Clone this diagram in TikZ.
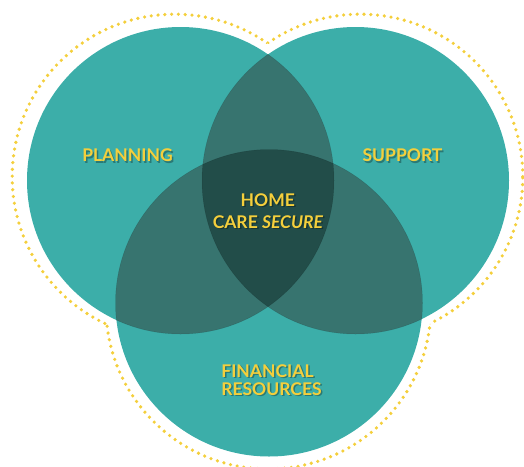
\documentclass[tikz,border=0pt]{standalone}
\usepackage{fontspec}
\setmainfont{Lato}
\usepackage{xcolor}
\definecolor{vennteal}{HTML}{3CAEA9}
\definecolor{venntwo}{HTML}{37746F}
\definecolor{vennthree}{HTML}{224D49}
\definecolor{vennyellow}{HTML}{F4CF3C}

\tikzset{
  dotline/.style={vennyellow, line width=3.6pt, line cap=round, dash pattern=on 0pt off 6.8pt},
  vennlabel/.style={font=\fontsize{17.5}{20}\selectfont\bfseries, text=vennyellow, inner sep=0pt},
  vennshadow/.style={vennlabel, text=black, text opacity=.3}
}
% text with a soft drop shadow
\newcommand\shadowtext[3]{%
  \node[vennshadow, xshift=1.5pt, yshift=-1.5pt] at (#2) {#3};
  \node[vennlabel] (#1) at (#2) {#3};
}

\begin{document}
\begin{tikzpicture}[x=1pt,y=-1pt]
\useasboundingbox (0,0) rectangle (524,466);
\def\rad{153.5pt}
\def\outrad{162.5pt}
\coordinate (plan) at (180.5,180.5);
\coordinate (supp) at (355.5,180.5);
\coordinate (fin) at (269,303);
\coordinate (planout) at (174.7,176.7);
\coordinate (suppout) at (360.3,176.7);
\coordinate (finout) at (268.4,306.5);

% dotted outline of the union
\foreach \a/\b/\c in {planout/suppout/finout, suppout/finout/planout, finout/planout/suppout}{
  \begin{scope}[even odd rule]
    \clip (-30,-30) rectangle (560,500) (\b) circle[radius=\outrad];
    \clip (-30,-30) rectangle (560,500) (\c) circle[radius=\outrad];
    \draw[dotline] (\a) circle[radius=\outrad];
  \end{scope}
}

% circles
\foreach \c in {plan,supp,fin}
  \fill[vennteal] (\c) circle[radius=\rad];
% pairwise overlaps
\foreach \a/\b in {plan/supp, supp/fin, fin/plan}{
  \begin{scope}
    \clip (\a) circle[radius=\rad];
    \fill[venntwo] (\b) circle[radius=\rad];
  \end{scope}
}
% centre
\begin{scope}
  \clip (plan) circle[radius=\rad];
  \clip (supp) circle[radius=\rad];
  \fill[vennthree] (fin) circle[radius=\rad];
\end{scope}
% faint edges inside the overlaps
\foreach \a/\b/\c in {plan/supp/fin, supp/fin/plan, fin/plan/supp}{
  \begin{scope}
    \clip (\b) circle[radius=\rad] (\c) circle[radius=\rad];
    \draw[black, opacity=.12, line width=.5pt] (\a) circle[radius=\rad];
  \end{scope}
}

% labels
\shadowtext{planning}{127.5,155.5}{PLANNING}
\shadowtext{support}{402.5,155.5}{SUPPORT}
\shadowtext{home}{267.8,199.7}{HOME}
\shadowtext{secure}{268,221.7}{CARE \textit{SECURE}}
\shadowtext{financial}{267.5,370.8}{FINANCIAL}
\shadowtext{resources}{271.5,389}{RESOURCES}
\end{tikzpicture}
\end{document}
